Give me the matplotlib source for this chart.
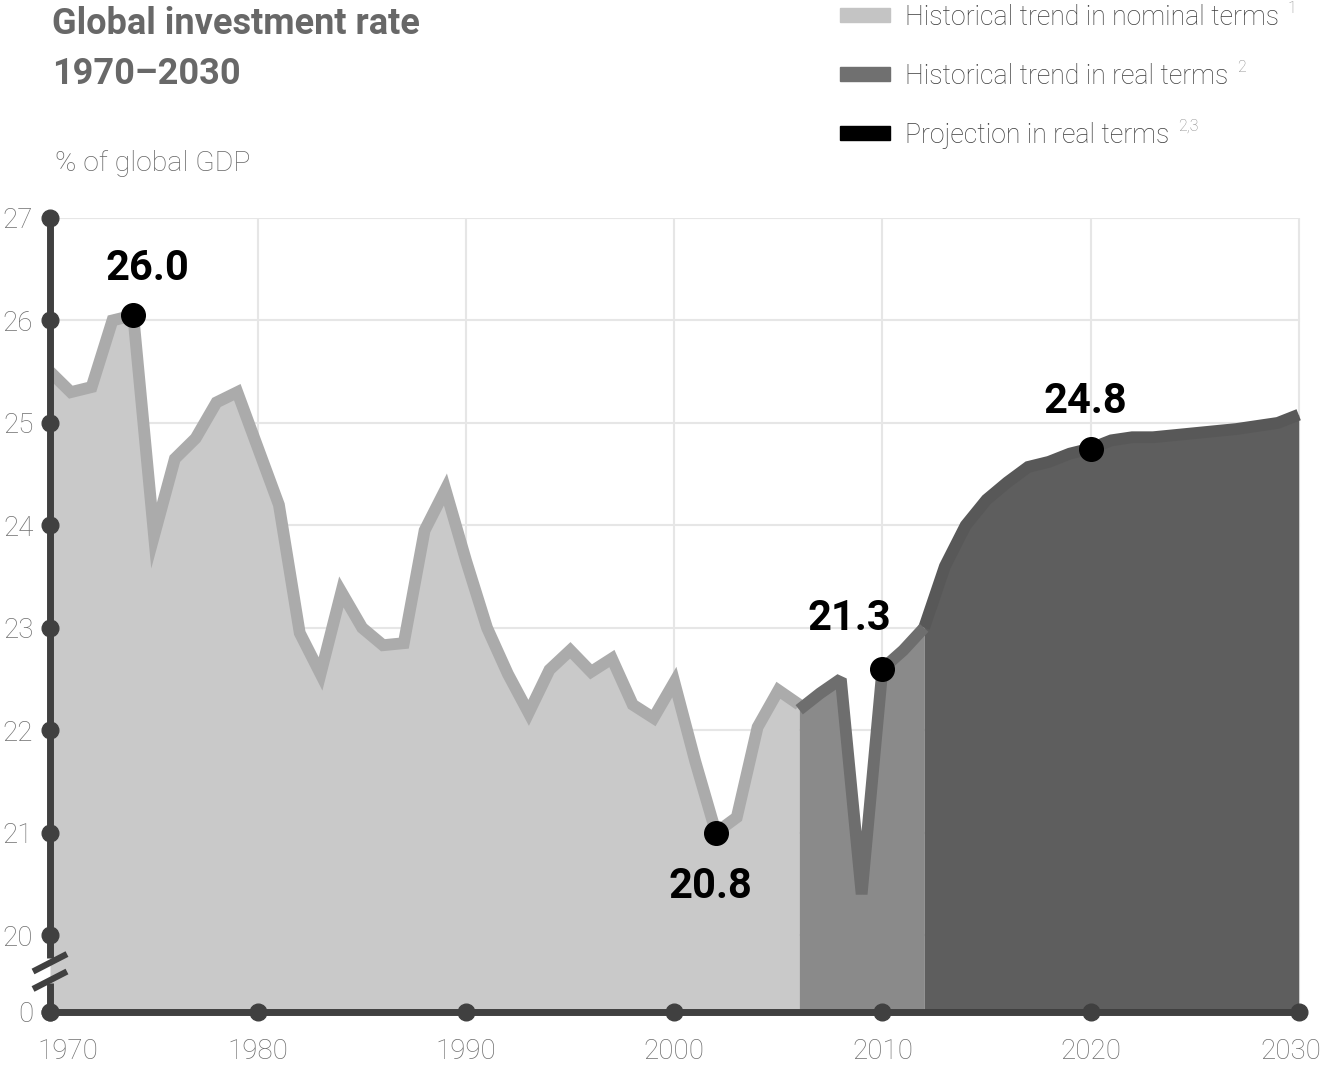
import numpy as np
import matplotlib
matplotlib.use("Agg")
import matplotlib.pyplot as plt
import matplotlib.transforms as mtransforms

# ---- data ---------------------------------------------------------------
years_nominal = list(range(1970, 2007))
nominal = [25.5, 25.3, 25.35, 26.0, 26.05, 23.9, 24.65, 24.85, 25.2, 25.3,
           24.75, 24.2, 22.95, 22.55, 23.35, 23.0, 22.83, 22.85, 23.95, 24.35,
           23.65, 23.0, 22.55, 22.17, 22.59, 22.78, 22.57, 22.7, 22.25, 22.12,
           22.47, 21.7, 21.0, 21.15, 22.03, 22.39, 22.25]

years_real = list(range(2006, 2013))
real = [22.2, 22.36, 22.5, 20.4, 22.6, 22.78, 23.0]

years_proj = list(range(2012, 2031))
proj = [23.0, 23.6, 24.0, 24.25, 24.42, 24.57, 24.62, 24.7, 24.75, 24.83,
        24.86, 24.86, 24.88, 24.9, 24.92, 24.94, 24.97, 25.0, 25.08]

hl_years = [1974, 2002, 2010, 2020]
hl_labels = ["26.0", "20.8", "21.3", "24.8"]

x_ticks = [1970, 1980, 1990, 2000, 2010, 2020, 2030]
y_ticks = [0, 20, 21, 22, 23, 24, 25, 26, 27]

legend_labels = ["Historical trend in nominal terms",
                 "Historical trend in real terms",
                 "Projection in real terms"]
legend_notes = ["1", "2", "2,3"]

# ---- style --------------------------------------------------------------
plt.rcParams["font.family"] = ["Roboto", "DejaVu Sans"]

C_NOM_FILL, C_NOM_LINE = "#c9c9c9", "#ababab"
C_REAL_FILL, C_REAL_LINE = "#8a8a8a", "#6e6e6e"
C_PROJ_FILL, C_PROJ_LINE = "#5e5e5e", "#585858"
C_AXIS = "#404040"
C_TICK = "#6e6e6e"

W, H = 1330, 1067
X0, X1 = 1970, 2030.4


def fpx(x, y):
    return x / W, 1 - y / H


# broken y axis: 0..20 squeezed into a short band, 20..27 linear
def fwd(v):
    v = np.asarray(v, dtype=float)
    return np.where(v >= 20, v - 20, (v - 20) * 0.75 / 20)


def inv(p):
    p = np.asarray(p, dtype=float)
    return np.where(p >= 0, p + 20, p * 20 / 0.75 + 20)


fig = plt.figure(figsize=(W / 100, H / 100), dpi=100)
ax = fig.add_axes([50 / W, (H - 1012) / H, 1257 / W, 794 / H])
ax.set_yscale("function", functions=(fwd, inv))
ax.set_xlim(X0, X1)
ax.set_ylim(0, 27)

# grid (stops at the last year)
x_end = (x_ticks[-1] - X0) / (X1 - X0)
for yv in y_ticks[1:]:
    ax.axhline(yv, xmax=x_end, color="#e6e6e6", lw=1.5, zorder=0)
for xv in x_ticks[1:]:
    ax.axvline(xv, color="#e6e6e6", lw=1.5, zorder=0)

# areas
ax.fill_between(years_nominal, 0, nominal, color=C_NOM_FILL, lw=0, zorder=1)
ax.fill_between(years_real, 0, real, color=C_REAL_FILL, lw=0, zorder=1)
ax.fill_between(years_proj, 0, proj, color=C_PROJ_FILL, lw=0, zorder=1)

kw = dict(lw=8.5, solid_capstyle="butt", zorder=2)
ax.plot(years_nominal, nominal, color=C_NOM_LINE, solid_joinstyle="miter", **kw)
ax.plot(years_proj, proj, color=C_PROJ_LINE, solid_joinstyle="miter", **kw)
ax.plot(years_real, real, color=C_REAL_LINE, solid_joinstyle="bevel", **kw)

# highlighted points
series = dict(zip(years_nominal, nominal))
series.update(zip(years_real, real))
series.update(zip(years_proj, proj))
offsets = [(10, 34), (-4, -39), (-24, 36), (-4, 34)]
for yr, lab, off in zip(hl_years, hl_labels, offsets):
    val = series[yr]
    ax.plot(yr, val, "o", ms=17, color="black", zorder=5)
    ax.annotate(lab, (yr, val), xytext=off, textcoords="offset points",
                ha="center", va="center", fontsize=30, fontweight="bold",
                color="black", zorder=6)

# axes: custom spines with dots and a break
for s in ax.spines.values():
    s.set_visible(False)
ax.plot([0, 0], [1, 0.068], color=C_AXIS, lw=5, transform=ax.transAxes,
        clip_on=False, zorder=4, solid_capstyle="butt")
ax.plot([0, 0], [0.036, 0], color=C_AXIS, lw=5, transform=ax.transAxes,
        clip_on=False, zorder=4, solid_capstyle="butt")
ax.plot([0, x_end], [0, 0], color=C_AXIS, lw=5, transform=ax.transAxes,
        clip_on=False, zorder=4, solid_capstyle="butt")
for yc in (0.062, 0.040):
    ax.plot([-0.0135, 0.0135], [yc - 0.011, yc + 0.011], color=C_AXIS, lw=4.5,
            transform=ax.transAxes, clip_on=False, zorder=4,
            solid_capstyle="butt")
ax.plot([1970] * len(y_ticks), y_ticks, "o", ms=12, color=C_AXIS,
        clip_on=False, zorder=4)
ax.plot(x_ticks, [0] * len(x_ticks), "o", ms=12, color=C_AXIS,
        clip_on=False, zorder=4)

ax.set_xticks(x_ticks)
ax.set_xticklabels([str(x) for x in x_ticks])
ax.set_yticks(y_ticks)
ax.set_yticklabels([str(y) for y in y_ticks])
ax.tick_params(axis="both", length=0, labelsize=20, labelcolor=C_TICK)
ax.tick_params(axis="y", pad=12)
ax.tick_params(axis="x", pad=19)
ax.minorticks_off()
for lab in ax.get_xticklabels() + ax.get_yticklabels():
    lab.set_fontweight("light")
xl = ax.get_xticklabels()
xl[0].set_transform(xl[0].get_transform() +
                    mtransforms.ScaledTranslation(18 / 100, 0, fig.dpi_scale_trans))
xl[-1].set_transform(xl[-1].get_transform() +
                     mtransforms.ScaledTranslation(-8 / 100, 0, fig.dpi_scale_trans))

# titles
fig.text(*fpx(52, 34), "Global investment rate", fontsize=26,
         fontweight="bold", color="#686868", ha="left", va="baseline")
fig.text(*fpx(52, 84), "1970\u20132030", fontsize=26,
         fontweight="bold", color="#686868", ha="left", va="baseline")
fig.text(*fpx(55, 171), "% of global GDP", fontsize=20.5, fontweight="light",
         color="#666666", ha="left", va="baseline")

# legend
sw_colors = ["#c4c4c4", "#707070", "#000000"]
sw_y = [15, 74, 133]
fig.canvas.draw()
renderer = fig.canvas.get_renderer()
for col, yy, lab, note in zip(sw_colors, sw_y, legend_labels, legend_notes):
    fig.add_artist(plt.Rectangle(fpx(840, yy + 7), 50 / W, 14 / H,
                                 color=col, transform=fig.transFigure))
    t = fig.text(*fpx(905, yy + 10), lab, fontsize=19.2, fontweight="light",
                 color="#3c3c3c", ha="left", va="baseline")
    bb = t.get_window_extent(renderer)
    fig.text(bb.x1 / W + 9 / W, 1 - (yy - 2) / H, note, fontsize=11.5,
             fontweight="light", color="#8a8a8a", ha="left", va="baseline")

fig.savefig("out.png", dpi=100)
